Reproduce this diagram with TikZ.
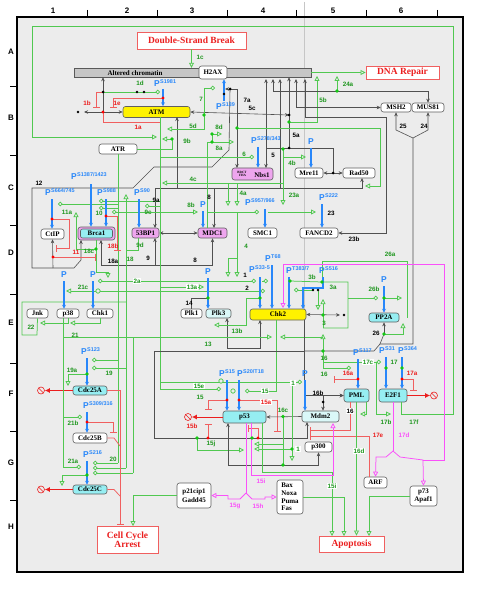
\documentclass[tikz,border=0pt]{standalone}
\usepackage{fontspec}
\setmainfont{Liberation Serif}
\newfontfamily\lsans{Liberation Sans}
\usetikzlibrary{arrows.meta,shapes,positioning}

\definecolor{mgreen}{RGB}{80,200,80}
\definecolor{dgreen}{RGB}{20,200,20}
\definecolor{tgreen}{RGB}{30,150,30}
\definecolor{mred}{RGB}{240,95,95}
\definecolor{tred}{RGB}{235,30,30}
\definecolor{pblue}{RGB}{40,135,250}
\definecolor{mmag}{RGB}{250,80,250}
\definecolor{dgray}{RGB}{80,80,80}
\definecolor{bggray}{RGB}{236,236,236}
\definecolor{barg}{RGB}{198,198,198}
\definecolor{cyanf}{RGB}{150,238,242}
\definecolor{lcyan}{RGB}{218,248,248}
\definecolor{pinkf}{RGB}{238,165,238}

\tikzset{
  mol/.style={draw=gray!75!black, rounded corners=2.5bp, fill=white, line width=0.6bp,
    font=\fontsize{7}{7}\selectfont\bfseries, inner sep=0pt},
  proc/.style={draw=mred, fill=white, line width=0.9bp, text=tred, inner sep=0pt,
    font=\fontsize{9.5}{11}\selectfont\bfseries, align=center},
  grid/.style={font=\lsans\fontsize{8}{8}\selectfont\bfseries, inner sep=0pt},
  num/.style={font=\lsans\fontsize{6.3}{6.3}\selectfont\bfseries, inner sep=0.8bp},
  gnum/.style={num, text=tgreen},
  rnum/.style={num, text=tred},
  knum/.style={num, text=black},
  mnum/.style={num, text=mmag},
  pl/.style={font=\lsans\fontsize{8.5}{8.5}\selectfont\bfseries, text=pblue, inner sep=0pt},
  sup/.style={font=\lsans\fontsize{5.5}{5.5}\selectfont\bfseries, text=pblue, inner sep=0pt, yshift=-3bp},
  parr/.style={draw=pblue, line width=1.1bp, -{Stealth[length=4bp,width=4bp]}},
  grn/.style={draw=mgreen, line width=0.75bp},
  act/.style={grn, -{Triangle[open,length=5bp,width=5bp,fill=bggray]}},
  req/.style={grn, -{Circle[open,length=4.5bp,fill=bggray]}},
  redl/.style={draw=mred, line width=0.75bp},
  inh/.style={redl, -{Bar[width=7bp,line width=1.3bp]}},
  blk/.style={draw=dgray, line width=0.6bp},
  bnd/.style={blk, -{Stealth[length=4bp,width=3.5bp]}},
  bnd2/.style={blk, {Stealth[length=4bp,width=3.5bp]}-{Stealth[length=4bp,width=3.5bp]}},
  mag/.style={draw=mmag, line width=0.75bp},
  magact/.style={mag, -{Triangle[open,length=5bp,width=5bp,fill=bggray]}},
  dead/.style={draw=tred, line width=1bp, -{Latex[length=5bp,width=5bp]}},
  degr/.style={circle, draw=tred, line width=0.6bp, minimum size=7bp, inner sep=0pt,
    path picture={\draw[tred, line width=0.6bp] (path picture bounding box.north west) -- (path picture bounding box.south east);}}
}

\begin{document}
\begin{tikzpicture}[x=1bp, y=-1bp]
\useasboundingbox (0,0) rectangle (481,591);

% frame and grid
\fill[bggray] (17,17) rectangle (463,572);
\draw[gray!45, line width=0.6bp] (304,2) -- (304,318);
\draw[line width=1.3bp] (17,17) rectangle (463,572);
\draw[line width=1bp] (87,10) -- (87,17) (157,10) -- (157,17) (227,10) -- (227,17)
  (296,10) -- (296,17) (366,10) -- (366,17) (437,10) -- (437,17)
  (10,87) -- (17,87) (10,156) -- (17,156) (10,225) -- (17,225) (10,294) -- (17,294)
  (10,363) -- (17,363) (10,431) -- (17,431) (10,500) -- (17,500);
\node[grid] (col1) at (53,11) {1};
\node[grid] (col2) at (127,11) {2};
\node[grid] (col3) at (192,11) {3};
\node[grid] (col4) at (263,11) {4};
\node[grid] (col5) at (333,11) {5};
\node[grid] (col6) at (401,11) {6};
\node[grid] (rowA) at (11,52) {A};
\node[grid] (rowB) at (11,118) {B};
\node[grid] (rowC) at (11,188) {C};
\node[grid] (rowD) at (11,253) {D};
\node[grid] (rowE) at (11,323) {E};
\node[grid] (rowF) at (11,394) {F};
\node[grid] (rowG) at (11,463) {G};
\node[grid] (rowH) at (11,527) {H};

% molecules and processes
\node[proc, minimum width=109bp, minimum height=17bp] (DSB) at (191.5,40.5) {Double-Strand Break};
\node[draw=gray!70!black, fill=barg, minimum width=237bp, minimum height=9bp, inner sep=0pt] (chrom) at (192.5,72.5) {};
\node[font=\fontsize{7}{7}\selectfont\bfseries, inner sep=0pt] (chromtx) at (135,73) {Altered chromatin};
\node[mol, minimum width=28bp, minimum height=13bp] (H2AX) at (213,72.5) {H2AX};
\node[proc, minimum width=73bp, minimum height=13bp] (DNArep) at (402.5,72.5) {DNA Repair};
\node[mol, fill=yellow, minimum width=67bp, minimum height=11bp] (ATM) at (156.5,112) {ATM};
\node[mol, minimum width=38bp, minimum height=10bp] (ATR) at (118,149) {ATR};
\node[mol, minimum width=30bp, minimum height=9bp] (MSH2) at (396,107.5) {MSH2};
\node[mol, minimum width=32bp, minimum height=9bp] (MUS81) at (428,107.5) {MUS81};
\node[mol, fill=pinkf, minimum width=41bp, minimum height=12bp] (Nbs1) at (252.5,174) {};
\node[font=\fontsize{3.3}{3.8}\selectfont\bfseries, align=left, inner sep=0pt] (Nbs1dom) at (242,174) {BRCT\\\ \ FHA};
\node[font=\fontsize{7}{7}\selectfont\bfseries, inner sep=0pt] (Nbs1tx) at (262,175) {Nbs1};
\node[mol, minimum width=28bp, minimum height=10bp] (Mre11) at (309,173) {Mre11};
\node[mol, minimum width=32bp, minimum height=10bp] (Rad50) at (359,173) {Rad50};
\node[mol, minimum width=38bp, minimum height=10bp] (FANCD2) at (319,233) {FANCD2};
\node[mol, minimum width=29bp, minimum height=10bp] (SMC1) at (262.5,233) {SMC1};
\node[mol, fill=pinkf, minimum width=29bp, minimum height=10bp] (MDC1) at (212.5,233) {MDC1};
\node[mol, fill=pinkf, minimum width=27bp, minimum height=10bp] (BP53) at (145.5,233) {53BP1};
\node[mol, fill=pinkf, minimum width=37bp, minimum height=13bp] (Brca1) at (96.5,233.5) {};
\node[mol, fill=cyanf, minimum width=32bp, minimum height=9bp, rounded corners=2bp] (Brca1in) at (96.5,233.5) {Brca1};
\node[mol, minimum width=23bp, minimum height=10bp] (CtIP) at (52.5,234) {CtIP};
\node[mol, minimum width=21bp, minimum height=9bp] (Jnk) at (37.5,313.5) {Jnk};
\node[mol, minimum width=22bp, minimum height=9bp] (p38) at (68,313.5) {p38};
\node[mol, minimum width=26bp, minimum height=9bp] (Chk1) at (100,313.5) {Chk1};
\node[mol, minimum width=21bp, minimum height=9bp] (Plk1) at (191.5,313.5) {Plk1};
\node[mol, fill=lcyan, minimum width=25bp, minimum height=9bp] (Plk3) at (218.5,313.5) {Plk3};
\node[mol, fill=yellow, minimum width=56bp, minimum height=11bp] (Chk2) at (278,314.5) {Chk2};
\node[mol, fill=cyanf, minimum width=30bp, minimum height=9bp] (PP2A) at (384,317.5) {PP2A};
\node[mol, fill=cyanf, minimum width=34bp, minimum height=9bp] (Cdc25A) at (90,390.5) {Cdc25A};
\node[mol, minimum width=34bp, minimum height=10bp] (Cdc25B) at (90,438) {Cdc25B};
\node[mol, fill=cyanf, minimum width=34bp, minimum height=9bp] (Cdc25C) at (90,489.5) {Cdc25C};
\node[proc, minimum width=61bp, minimum height=27bp] (CCA) at (127.5,539.5) {Cell Cycle\\[-1.5bp]Arrest};
\node[mol, fill=cyanf, minimum width=43bp, minimum height=12bp] (p53) at (244.5,417) {p53};
\node[mol, fill=lcyan, minimum width=37bp, minimum height=11bp] (Mdm2) at (320.5,416.5) {Mdm2};
\node[mol, minimum width=27bp, minimum height=10bp] (p300) at (318.5,447) {p300};
\node[mol, fill=cyanf, minimum width=25bp, minimum height=13bp] (PML) at (356.5,395.5) {PML};
\node[mol, fill=cyanf, minimum width=28bp, minimum height=13bp] (E2F1) at (393,395.5) {E2F1};
\node[mol, minimum width=23bp, minimum height=11bp] (ARF) at (375.5,482.5) {ARF};
\node[mol, minimum width=27bp, minimum height=20bp, align=center] (p73) at (423.5,496) {p73\\[0.5bp]Apaf1};
\node[proc, minimum width=65bp, minimum height=16bp] (Apop) at (351.5,544) {Apoptosis};
\node[mol, minimum width=34bp, minimum height=25bp, align=center] (p21) at (194,495.5) {p21cip1\\[2.5bp]Gadd45};
\node[mol, minimum width=26bp, minimum height=34bp, align=left] (BNPF) at (290,497) {Bax\\[0.7bp]Noxa\\[0.7bp]Puma\\[0.7bp]Fas};
\node[degr] (degA) at (41,390.5) {};
\node[degr] (degC) at (41,489.5) {};
\node[degr] (degP) at (188,417) {};
\node[degr] (degE) at (434,395.5) {};

% junctions
\coordinate (t17f) at (157,137);
\coordinate (e17f) at (401,402);
\coordinate (jA) at (103,112);
\coordinate (jB) at (103,92);
\coordinate (dL) at (84,112);
\coordinate (t1d) at (160,92);
\coordinate (t1b) at (96,108);
\coordinate (jP) at (163,98);
\coordinate (t1e) at (113,108);
\coordinate (t1a) at (161,122);
\coordinate (jMRN) at (289,115);
\coordinate (j5a) at (289,148);
\coordinate (j5b) at (289,122);
\coordinate (t5b) at (317,76);
\coordinate (j24a) at (337,91);
\coordinate (t24a) at (337,76);
\coordinate (b1) at (266,79);
\coordinate (b2) at (273,79);
\coordinate (b3) at (280,79);
\coordinate (b5) at (296,79);
\coordinate (b6) at (305,79);
\coordinate (e23b) at (386,117);
\coordinate (j5n) at (266,148);
\coordinate (t5) at (266,168);
\coordinate (jMR) at (333,173);
\coordinate (j4b) at (283,149);
\coordinate (t4b) at (306,157);
\coordinate (t23a) at (283,205);
\coordinate (j4c) at (283,183);
\coordinate (t4c) at (162,183);
\coordinate (j4a1) at (228,183);
\coordinate (t4a1) at (228,206);
\coordinate (j4a2) at (237,183);
\coordinate (t4a2) at (237,206);
\coordinate (j4s) at (237,213);
\coordinate (j4d) at (228,258);
\coordinate (t4d1) at (228,277);
\coordinate (t4d2) at (237,277);
\coordinate (j7a) at (230,89);
\coordinate (c224) at (225,89);
\coordinate (t7a) at (237,168);
\coordinate (bBr1) at (81,240);
\coordinate (bBr2) at (101,240);
\coordinate (bBr3) at (96,240);
\coordinate (j12c) at (53,268);
\coordinate (a53n) at (155,228);
\coordinate (a53s) at (155,238);
\coordinate (a53g) at (138,238);
\coordinate (j280) at (280,188);
\coordinate (j177) at (177,188);
\coordinate (aATMb) at (177,117);
\coordinate (r50b) at (362,178);
\coordinate (j188m) at (214,188);
\coordinate (t8m) at (214,228);
\coordinate (j9) at (155,265);
\coordinate (j5cg) at (204,115);
\coordinate (t7) at (215,88);
\coordinate (t5d) at (167,129);
\coordinate (j9b) at (172,139);
\coordinate (t9b) at (162,139);
\coordinate (m8) at (207,228);
\coordinate (j8a) at (212,142);
\coordinate (j8d) at (212,134);
\coordinate (t8d) at (222,134);
\coordinate (t8a) at (234,142);
\coordinate (j8c) at (237,128);
\coordinate (e50) at (380,186);
\coordinate (t50) at (365,186);
\coordinate (aT1) at (160,117);
\coordinate (aT2) at (160,389);
\coordinate (jT157) at (160,157);
\coordinate (t6) at (254,157);
\coordinate (jT201) at (160,201);
\coordinate (tB1) at (99,201);
\coordinate (jT206) at (160,206);
\coordinate (t9c) at (145,206);
\coordinate (jT212) at (160,212);
\coordinate (t10) at (112,212);
\coordinate (t8b) at (198,212);
\coordinate (c8b) at (207,212);
\coordinate (tSMC) at (259,212);
\coordinate (cSMC) at (268,212);
\coordinate (tFA) at (316,212);
\coordinate (jT281) at (160,281);
\coordinate (tC1a) at (98,281);
\coordinate (tC2a) at (256,281);
\coordinate (cC2a) at (262,281);
\coordinate (tC2b) at (268,281);
\coordinate (jT287) at (160,287);
\coordinate (t13a) at (204,287);
\coordinate (jT337) at (160,337);
\coordinate (p38bl) at (63,318);
\coordinate (jT382) at (160,382);
\coordinate (t1m) at (302,382);
\coordinate (t15e) at (221,389);
\coordinate (aR2) at (118,463);
\coordinate (t20a) at (93,463);
\coordinate (jR208) at (118,208);
\coordinate (tB2) at (99,208);
\coordinate (jR204) at (118,204);
\coordinate (tCt) at (58,204);
\coordinate (jR291) at (118,291);
\coordinate (t21c) at (66,291);
\coordinate (t2c) at (265,291);
\coordinate (jR360) at (118,360);
\coordinate (tA1) at (92,360);
\coordinate (j18b) at (126,468);
\coordinate (t18) at (126,194);
\coordinate (t20b) at (93,468);
\coordinate (j126) at (126,368);
\coordinate (tA2) at (92,368);
\coordinate (j133t) at (133,337);
\coordinate (j133b) at (133,473);
\coordinate (t20c) at (93,473);
\coordinate (c129) at (126,250);
\coordinate (r18b) at (106,216);
\coordinate (t18b) at (117,251);
\coordinate (r11a) at (52,219);
\coordinate (e11a) at (69,248);
\coordinate (t11x) at (56,248);
\coordinate (r11b) at (53,257);
\coordinate (t11b) at (96,257);
\coordinate (t18x) at (108,278);
\coordinate (j18c) at (96,249);
\coordinate (t11a) at (76,212);
\coordinate (jBox) at (126,302);
\coordinate (t22) at (40,323);
\coordinate (t21) at (70,323);
\coordinate (j19a) at (87,374);
\coordinate (t19a) at (68,386);
\coordinate (tCCA) at (120,525);
\coordinate (jB1) at (120,446);
\coordinate (jC1) at (120,496);
\coordinate (r309) at (87,422);
\coordinate (t21bb) at (113,433);
\coordinate (j63top) at (63,337);
\coordinate (t21b) at (82,417);
\coordinate (t21a) at (81,467);
\coordinate (j20g) at (87,475);
\coordinate (t20g) at (62,486);
\coordinate (tCCA2) at (133,526);
\coordinate (j3b) at (290,281);
\coordinate (c3b) at (322,282);
\coordinate (c328) at (323,328);
\coordinate (c3d) at (313,290);
\coordinate (t3a) at (294,290);
\coordinate (c3e) at (318,290);
\coordinate (t3e) at (318,310);
\coordinate (cChkR) at (340,315);
\coordinate (j3) at (323,315);
\coordinate (t3) at (323,299);
\coordinate (j16) at (323,351);
\coordinate (t16b) at (323,334);
\coordinate (t16c2) at (351,368);
\coordinate (t17c) at (381,362);
\coordinate (pk3b) at (227,318);
\coordinate (chk2b) at (260,320);
\coordinate (jC2p) at (260,298);
\coordinate (t13b) at (214,325);
\coordinate (t13L) at (272,337);
\coordinate (j13R) at (323,337);
\coordinate (t13R) at (280,337);
\coordinate (chk2m) at (276,320);
\coordinate (t15c) at (245,391);
\coordinate (chk2r) at (304,320);
\coordinate (j14) at (208,298);
\coordinate (j26) at (384,334);
\coordinate (t26a) at (403,323);
\coordinate (jY) at (413,138);
\coordinate (c344) at (380,344);
\coordinate (c351) at (304,351);
\coordinate (j26b) at (384,298);
\coordinate (t26b) at (402,298);
\coordinate (c348b) at (348,298);
\coordinate (t26c) at (378,298);
\coordinate (c407) at (407,318);
\coordinate (mdm2b) at (307,422);
\coordinate (r15c) at (208,438);
\coordinate (r258) at (258,438);
\coordinate (t15x) at (248,428);
\coordinate (t15b2) at (208,424);
\coordinate (r15s) at (227,400);
\coordinate (t15b1) at (208,410);
\coordinate (r15a) at (239,400);
\coordinate (t15a) at (277,432);
\coordinate (j16c) at (283,416.5);
\coordinate (j16c2) at (283,444);
\coordinate (t16c) at (254,444);
\coordinate (g283) at (283,465);
\coordinate (j15j) at (197,438);
\coordinate (t15j) at (244,450);
\coordinate (j1c) at (292,382);
\coordinate (t1c) at (292,461);
\coordinate (j1d) at (292,449);
\coordinate (t1d2) at (254,449);
\coordinate (p53b) at (228,423);
\coordinate (j16b) at (323,402);
\coordinate (pmlb) at (350,402);
\coordinate (t16r) at (310,430);
\coordinate (arft) at (369,477);
\coordinate (t17e) at (310,436);
\coordinate (r16a) at (358,379);
\coordinate (t16a) at (334,379);
\coordinate (r17a) at (402,379);
\coordinate (t17a) at (413,391);
\coordinate (pmlbr) at (366,402);
\coordinate (t17b) at (360,414);
\coordinate (j17x) at (376,362);
\coordinate (t17b2) at (391,414);
\coordinate (p53br) at (262,423);
\coordinate (e15i) at (332,472);
\coordinate (tAp1) at (332,536);
\coordinate (tAp2) at (344,536);
\coordinate (tAp4) at (369,536);
\coordinate (jE) at (393,451);
\coordinate (c421) at (423,460);
\coordinate (e444) at (444,264);
\coordinate (tC2m) at (283,308);
\coordinate (m53a) at (246,423);
\coordinate (jM) at (246,493);
\coordinate (m53b) at (251,423);
\coordinate (e15im) at (333,475);
\coordinate (tMdm) at (333,423);

% outer loop and top
\draw[act] (e17f) |- (453,414) -- (453,26) -- (32,26) |- (t17f);
\draw[act] (DSB.south) -- (DSB.south |- chrom.north);
\draw[act] (chrom.east) -- (DNArep.west);
\draw[bnd] (jA) -- (jA |- chrom.south);
\draw[bnd2] (dL) -- (ATM.west);
\draw[req] (jB) -- (t1d);
\draw[inh] (jB) -| (t1b);
\draw[inh] (jP) -| (t1e);
\draw[inh] (jA) |- (t1a);
\draw[bnd2] (ATM.east) -- (jMRN);
\draw[bnd] (jMRN) -- (jMRN |- chrom.south);
\draw[blk] (jMRN) -- (j5a);
\draw[act] (j5b) -| (t5b);
\draw[act] (j24a) -- (t24a);
\draw[bnd2] (b2) -- (b2 |- j24a) -| (MUS81.north);
\draw[bnd2] (b5) |- (MSH2.west);
\draw[bnd2] (b6) |- (e23b) |- (FANCD2.east);
\draw[bnd] (j5n) -- (b1);
\draw[bnd] (j5a) -| (t5);
\draw[blk] (j5a) -| (jMR);
\draw[bnd] (jMR) -- (Mre11.east);
\draw[bnd] (jMR) -- (Rad50.west);
\draw[bnd] (jY) -- (396,130) -- (MSH2.south);
\draw[bnd] (jY) -- (428,130) -- (MUS81.south);
\draw[blk] (jY) |- (c344) -- (374,351) -- (c351);
\draw[blk] (c344) -- (j26);

% H2AX, Nbs1 and the 12 complex
\draw[bnd] (j7a) -- (c224);
\draw[bnd] (j7a) -| (t7a);
\draw[bnd] (j7a) -- (229,150) -- (212,167) -- (154,167) -- (133,188) -- (32,188) -- (32,268) -- (74,268) -- (81,260) -- (bBr1);
\draw[bnd] (j12c) -- (CtIP.south);
\draw[bnd2] (a53n) |- (j280) -- (b3);
\draw[bnd] (j177) -- (aATMb);
\draw[bnd] (j280) -| (r50b);
\draw[bnd] (j188m) -- (t8m);
\draw[bnd2] (BP53.east) -- (MDC1.west);
\draw[bnd] (j9) -- (a53s);
\draw[bnd] (j9) -| (MDC1.south);
\draw[bnd] (j9) -| (bBr2);

% green signals from ATM and ATR
\draw[grn] (aT1) -- (aT2);
\draw[grn] (ATR.south) -- (aR2);
\draw[req] (aR2) -- (t20a);
\draw[req] (j5cg) |- (t7);
\draw[act] (j5cg) |- (t5d);
\draw[act] (ATR.east) -| (j9b) -- (t9b);
\draw[grn] (m8) |- (j8a) -- (j8d);
\draw[act] (j8d) -- (t8d);
\draw[act] (j8a) -- (t8a);
\draw[act] (j8c) -| (e50) -- (t50);
\draw[req] (jT157) -- (t6);
\draw[act] (j4b) |- (t4b);
\draw[act] (j4b) -- (t23a);
\draw[act] (j4c) -- (t4c);
\draw[act] (j4a1) -- (t4a1);
\draw[act] (j4a2) -- (t4a2);
\draw[grn] (j4s) -- (237,258) -- (j4d);
\draw[act] (j4d) -- (t4d1);
\draw[act] (237,258) -- (t4d2);
\draw[req] (jT201) -- (tB1);
\draw[req] (jT206) -- (t9c);
\draw[req] (jT212) -- (t10);
\draw[act] (jT212) -- (t8b);
\draw[req] (c8b) -- (tSMC);
\draw[act] (cSMC) -- (tFA);
\draw[req] (jR208) -- (tB2);
\draw[req] (jR204) -- (tCt);
\draw[req] (jT281) -- (tC1a);
\draw[req] (jT281) -- (tC2a);
\draw[req] (cC2a) -- (tC2b);
\draw[act] (jT287) -- (t13a);
\draw[act] (jR291) -- (t21c);
\draw[req] (jR291) -- (t2c);
\draw[req] (jR360) -- (tA1);
\draw[act] (j18b) -- (t18);
\draw[req] (j18b) -- (t20b);
\draw[req] (j126) -- (tA2);
\draw[grn] (j133t) -- (j133b);
\draw[req] (j133b) -- (t20c);
\draw[grn] (a53g) |- (c129);
\draw[grn] (p38bl) |- (jT337);
\draw[req] (jT382) -- (t1m);
\draw[req] (jT382 |- t15e) -- (t15e);

% Brca1 and CtIP
\draw[inh] (r18b) -| (t18b);
\draw[inh] (r11a) -| (e11a) -- (t11x);
\draw[inh] (r11b) -- (t11b);
\draw[act] (bBr3) -- (96,272) -| (t18x);
\draw[act] (j18c) -| (t11a);

% Jnk, p38, Chk1
\draw[grn] (jBox) -- (22,302) |- (37,335) -- (Jnk.south);
\draw[act] (p38.south) |- (t22);
\draw[act] (Chk1.south) |- (t21);

% Cdc25
\draw[act] (j19a) -| (t19a);
\draw[dead] (Cdc25A.west) -- (degA);
\draw[dead] (Cdc25C.west) -- (degC);
\draw[inh] (Cdc25A.east) -| (tCCA);
\draw[redl] (Cdc25B.east) -- (114,438) -- (jB1);
\draw[redl] (Cdc25C.east) -- (114,489.5) -- (jC1);
\draw[inh] (r309) -| (t21bb);
\draw[req] (j63top) |- (t21b);
\draw[req] (j63top) |- (t21a);
\draw[act] (j20g) -| (t20g);
\draw[act] (p21.west) -| (tCCA2);

% Chk2 and PP2A
\draw[grn] (j3b) -- (c3b) -- (348,282) -- (348,328) -- (c328);
\draw[grn] (c3b) -- (322,261) -- (407,261) -- (c407);
\draw[req] (c3d) -- (t3a);
\draw[act] (c3e) -- (t3e);
\draw[bnd2] (Chk2.east) -- (cChkR);
\draw[act] (j3) -- (t3);
\draw[grn] (j3) -- (c328);
\draw[act] (j16) -- (t16b);
\draw[req] (j16) |- (t16c2);
\draw[req] (j16) |- (t17c);
\draw[bnd2] (pk3b) -- (227,348) -- (260,348) -- (chk2b);
\draw[act] (jC2p) -- (246,298) |- (t13b);
\draw[act] (jT337) -- (t13L);
\draw[act] (j13R) -- (t13R);
\draw[req] (chk2m) |- (t15c);
\draw[bnd] (chk2r) |- (PML.west);
\draw[blk] (Plk1.north) |- (j14);
\draw[bnd] (j26) -- (PP2A.south);
\draw[act] (j26) -| (t26a);
\draw[act] (j26b) -- (t26b);
\draw[req] (c348b) -- (t26c);

% p53, Mdm2, PML, E2F1
\draw[bnd] (c351) -- (154,351) -- (154,438) -| (mdm2b);
\draw[inh] (r258) |- (t15x);
\draw[inh] (r15c) -- (t15b2);
\draw[inh] (r15s) -| (t15b1);
\draw[inh] (r15a) -| (t15a);
\draw[dead] (p53.west) -- (degP);
\draw[bnd] (Mdm2.west) -- (p53.east);
\draw[grn] (g283) -- (j16c);
\draw[act] (j16c2) -- (t16c);
\draw[act] (j15j) |- (t15j);
\draw[act] (j1c) -- (t1c);
\draw[act] (j1d) -- (t1d2);
\draw[bnd2] (p53b) -- (228,465) -| (p300.south);
\draw[bnd] (j16b) |- (PML.west);
\draw[bnd] (j16b) -- (j16b |- Mdm2.north);
\draw[inh] (pmlb) |- (t16r);
\draw[inh] (arft) |- (t17e);
\draw[inh] (r16a) -- (t16a);
\draw[inh] (r17a) -| (t17a);
\draw[dead] (E2F1.east) -- (degE);
\draw[act] (pmlbr) |- (t17b);
\draw[act] (j17x) |- (t17b2);
\draw[act] (PML.south) -- (PML.south |- Apop.north);
\draw[act] (p53br) |- (e15i) -- (tAp1);
\draw[act] (BNPF.east) -| (tAp2);
\draw[act] (p73.west) -| (tAp4);

% transcription
\draw[mag] (E2F1.south) -- (jE);
\draw[magact] (jE) -- (386,457) -- (376,457) -- (ARF.north);
\draw[magact] (jE) -- (400,457) -- (c421) -- (p73.north);
\draw[magact] (c421) -| (e444) -- (283,264) -- (tC2m);
\draw[mag] (m53a) -- (jM);
\draw[magact] (jM) -- (240,499) -- (228,499) |- (p21.east);
\draw[magact] (jM) -- (252,499) -- (265,499) |- (BNPF.west);
\draw[magact] (m53b) |- (e15im) -- (tMdm);

% phosphorylations
\node[pl, label={[sup]north east:S1981}] (pATM) at (157,84) {P};
\node[pl, label={[sup]north east:S139}] (pH2AX) at (219,107) {P};
\node[pl, label={[sup]north east:S278/343}] (pNbs1) at (254,141) {P};
\node[pl] (pMre11) at (311,142) {P};
\node[pl, label={[sup]north east:S1387/1423}] (pBrA) at (74,177) {P};
\node[pl, label={[sup]north east:S664/745}] (pCtIP) at (48,193) {P};
\node[pl, label={[sup]north east:S988}] (pBrB) at (100,193) {P};
\node[pl, label={[sup]north east:S90}] (pBP53) at (137,193) {P};
\node[pl] (pMDC1) at (203,205) {P};
\node[pl, label={[sup]north east:S957/966}] (pSMC1) at (248,203) {P};
\node[pl, label={[sup]north east:S222}] (pFANC) at (322,198) {P};
\node[pl] (pPlk3) at (208,272) {P};
\node[pl, label={[sup]north east:S33-5}] (pChkA) at (252,270) {P};
\node[pl, label={[sup]north east:T68}] (pChkB) at (268,259) {P};
\node[pl, label={[sup]north east:T383/7}] (pChkC) at (289,271) {P};
\node[pl, label={[sup]north east:S516}] (pChkD) at (322,271) {P};
\node[pl] (pPP2A) at (384,280) {P};
\node[pl] (pChk1) at (93,275) {P};
\node[pl] (pp38) at (64,275) {P};
\node[pl, label={[sup]north east:S123}] (pC25A) at (84,352) {P};
\node[pl, label={[sup]north east:S309/316}] (pC25B) at (86,406) {P};
\node[pl, label={[sup]north east:S216}] (pC25C) at (86,455) {P};
\node[pl, label={[sup]north east:S15}] (pp53a) at (222,374) {P};
\node[pl, label={[sup]north east:S20/T18}] (pp53b) at (240,374) {P};
\node[pl] (pMdm2) at (305,374) {P};
\node[pl, label={[sup]north east:S117}] (pPML) at (356,353) {P};
\node[pl, label={[sup]north east:S31}] (pE2a) at (382,351) {P};
\node[pl, label={[sup]north east:S364}] (pE2b) at (401,351) {P};

\coordinate (aATM) at (163,89);
\coordinate (aH2AX) at (224,101);
\coordinate (aNbs1) at (258,147);
\coordinate (aMre) at (311,148);
\coordinate (aBa) at (91,184);
\coordinate (aCt) at (52,199);
\coordinate (aBb) at (106,199);
\coordinate (a53) at (139,199);
\coordinate (aMD) at (203,211);
\coordinate (aSM) at (265,209);
\coordinate (aFA) at (322,204);
\coordinate (aPl3) at (208,278);
\coordinate (aChkA) at (260,277);
\coordinate (aChkB) at (272,265);
\coordinate (aChkC) at (289,277);
\coordinate (aChkD) at (323,277);
\coordinate (eChkD) at (303,309);
\coordinate (aPP) at (384,286);
\coordinate (aChk1) at (93,281);
\coordinate (ap38) at (64,281);
\coordinate (aC25A) at (87,358);
\coordinate (aC25B) at (87,412);
\coordinate (aC25C) at (87,461);
\coordinate (ap53a) at (227,380);
\coordinate (ap53b) at (239,380);
\coordinate (aMdm) at (305,380);
\coordinate (aPML) at (358,359);
\coordinate (aE2a) at (386,357);
\coordinate (aE2b) at (402,357);

\draw[parr] (aATM) -- (aATM |- ATM.north);
\draw[parr] (aH2AX) -- (aH2AX |- H2AX.south);
\draw[parr] (aNbs1) -- (aNbs1 |- Nbs1.north);
\draw[parr] (aMre) -- (aMre |- Mre11.north);
\draw[parr] (aBa) -- (aBa |- Brca1.north);
\draw[parr] (aCt) -- (aCt |- CtIP.north);
\draw[parr] (aBb) -- (aBb |- Brca1.north);
\draw[parr] (a53) -- (a53 |- BP53.north);
\draw[parr] (aMD) -- (aMD |- MDC1.north);
\draw[parr] (aSM) -- (aSM |- SMC1.north);
\draw[parr] (aFA) -- (aFA |- FANCD2.north);
\draw[parr] (aPl3) -- (aPl3 |- Plk3.north);
\draw[parr] (aChkA) -- (aChkA |- Chk2.north);
\draw[parr] (aChkB) -- (aChkB |- Chk2.north);
\draw[parr] (aChkC) -- (aChkC |- Chk2.north);
\draw[parr] (aChkD) |- (303,288) -- (eChkD);
\draw[parr] (aPP) -- (aPP |- PP2A.north);
\draw[parr] (aChk1) -- (aChk1 |- Chk1.north);
\draw[parr] (ap38) -- (ap38 |- p38.north);
\draw[parr] (aC25A) -- (aC25A |- Cdc25A.north);
\draw[parr] (aC25B) -- (aC25B |- Cdc25B.north);
\draw[parr] (aC25C) -- (aC25C |- Cdc25C.north);
\draw[parr] (ap53a) -- (ap53a |- p53.north);
\draw[parr] (ap53b) -- (ap53b |- p53.north);
\draw[parr] (aMdm) -- (aMdm |- Mdm2.north);
\draw[parr] (aPML) -- (aPML |- PML.north);
\draw[parr] (aE2a) -- (aE2a |- E2F1.north);
\draw[parr] (aE2b) -- (aE2b |- E2F1.north);

% dots and open circles on lines
\fill[black] (78,112) circle (1.4) (jB) circle (1.5) (137,92) circle (1.4) (144,92) circle (1.4)
  (jMRN) circle (1.5) (j5a) circle (1.5) (jMR) circle (1.5) (j7a) circle (1.5) (224,94) circle (1.4)
  (344,315) circle (1.4) (c3d) circle (1.4) (c3e) circle (1.4) (j16b) circle (1.5);
\fill[red] (jA) circle (1.7) (jP) circle (1.7) (r18b) circle (1.7) (r11a) circle (1.7) (r11b) circle (1.7)
  (r309) circle (1.7) (r15c) circle (1.7) (r258) circle (1.7) (r15s) circle (1.7) (r15a) circle (1.7)
  (r16a) circle (1.7) (r17a) circle (1.7);
\fill[dgreen] (j5cg) circle (1.8) (j5b) circle (1.8) (j24a) circle (1.8) (j4b) circle (1.8)
  (j8d) circle (1.8) (j8a) circle (1.8) (j8c) circle (1.8) (j9b) circle (1.8) (j18c) circle (1.8)
  (j19a) circle (1.8) (j20g) circle (1.8) (j3b) circle (1.8) (c3b) circle (1.8) (j3) circle (1.8)
  (j16) circle (1.8) (jC2p) circle (1.8) (j14) circle (1.8) (j26) circle (1.8) (j26b) circle (1.8)
  (j16c) circle (1.8) (g283) circle (1.8) (j15j) circle (1.8) (252,438) circle (1.8) (j1d) circle (1.8)
  (402,368) circle (1.8) (386,368) circle (1.8);
\draw[mgreen, line width=0.75bp, fill=bggray] (98,291) circle (2.2) (233,391) circle (2.2) (221,381) circle (2.2);

% labels
\node[gnum] (l1c) at (200,57) {1c};
\node[gnum] (l1d) at (140,83) {1d};
\node[rnum] (l1b) at (87,103) {1b};
\node[rnum] (l1e) at (117,103) {1e};
\node[rnum] (l1a) at (138,127) {1a};
\node[gnum] (l7) at (201,99) {7};
\node[knum] (l7a) at (247,100) {7a};
\node[knum] (l5c) at (252,108) {5c};
\node[gnum] (l5b) at (323,100) {5b};
\node[gnum] (l24a) at (348,84) {24a};
\node[knum] (l25) at (403,126) {25};
\node[knum] (l24) at (424,126) {24};
\node[gnum] (l5d) at (193,126) {5d};
\node[gnum] (l9b) at (187,141) {9b};
\node[gnum] (l8d) at (219,127) {8d};
\node[gnum] (l8a) at (219,148) {8a};
\node[knum] (l5a) at (296,135) {5a};
\node[gnum] (l6) at (244,154) {6};
\node[knum] (l5) at (273,155) {5};
\node[gnum] (l4b) at (292,163) {4b};
\node[gnum] (l4c) at (193,179) {4c};
\node[gnum] (l4a) at (243,193) {4a};
\node[knum] (l8top) at (209,197) {8};
\node[gnum] (l23a) at (294,195) {23a};
\node[knum] (l12) at (39,183) {12};
\node[knum] (l9a) at (156,200) {9a};
\node[gnum] (l9c) at (148,212) {9c};
\node[gnum] (l11a) at (67,212) {11a};
\node[gnum] (l10) at (99,213) {10};
\node[gnum] (l8b) at (191,205) {8b};
\node[knum] (l23) at (331,213) {23};
\node[knum] (l23b) at (354,239) {23b};
\node[gnum] (l9d) at (140,245) {9d};
\node[rnum] (l11) at (76,252) {11};
\node[gnum] (l18c) at (89,251) {18c};
\node[rnum] (l18b) at (113,246) {18b};
\node[knum] (l18a) at (113,261) {18a};
\node[gnum] (l18) at (130,259) {18};
\node[knum] (l9) at (148,258) {9};
\node[knum] (l8) at (195,260) {8};
\node[gnum] (l4) at (246,246) {4};
\node[gnum] (l26a) at (390,254) {26a};
\node[knum] (l1k) at (245,275) {1};
\node[knum] (l2k) at (247,288) {2};
\node[gnum, fill=white] (l2a) at (137,281) {2a};
\node[gnum] (l21c) at (83,287) {21c};
\node[gnum, fill=white] (l13a) at (192,287) {13a};
\node[gnum] (l3b) at (312,277) {3b};
\node[gnum] (l3a) at (333,287) {3a};
\node[gnum] (l26b) at (374,289) {26b};
\node[knum] (l14) at (189,303) {14};
\node[gnum] (l3) at (324,323) {3};
\node[knum] (l26) at (376,333) {26};
\node[gnum] (l13b) at (237,331) {13b};
\node[gnum] (l13) at (208,344) {13};
\node[gnum] (l22) at (31,327) {22};
\node[gnum] (l21) at (75,335) {21};
\node[gnum] (l16x) at (324,358) {16};
\node[gnum] (l16y) at (324,374) {16};
\node[gnum, fill=white] (l17c) at (368,362) {17c};
\node[gnum] (l17) at (394,362) {17};
\node[rnum] (l16a) at (348,373) {16a};
\node[rnum] (l17a) at (412,373) {17a};
\node[gnum] (l19a) at (72,370) {19a};
\node[gnum] (l19) at (109,373) {19};
\node[gnum] (l21b) at (73,423) {21b};
\node[gnum] (l21a) at (73,461) {21a};
\node[gnum] (l20) at (113,459) {20};
\node[gnum, fill=white] (l15e) at (199,386) {15e};
\node[gnum] (l15) at (200,397) {15};
\node[gnum, fill=white] (l15w) at (265,391) {15};
\node[gnum, fill=white] (l1m) at (293,383) {1};
\node[rnum, fill=white] (l15a) at (266,402) {15a};
\node[gnum] (l16c) at (283,410) {16c};
\node[knum] (l16b) at (318,393) {16b};
\node[knum, fill=white] (l16) at (350,411) {16};
\node[rnum] (l15b) at (192,426) {15b};
\node[gnum] (l15j) at (211,444) {15j};
\node[gnum, fill=white] (l1p) at (298,449) {1};
\node[mnum] (l15im) at (261,481) {15i};
\node[mnum] (l15g) at (235,506) {15g};
\node[mnum] (l15h) at (258,506) {15h};
\node[gnum, fill=white] (l15i) at (332,486) {15i};
\node[gnum, fill=white] (l16d) at (359,451) {16d};
\node[rnum] (l17e) at (378,435) {17e};
\node[mnum] (l17d) at (404,435) {17d};
\node[gnum] (l17b) at (386,422) {17b};
\node[gnum] (l17f) at (414,422) {17f};
\end{tikzpicture}
\end{document}
